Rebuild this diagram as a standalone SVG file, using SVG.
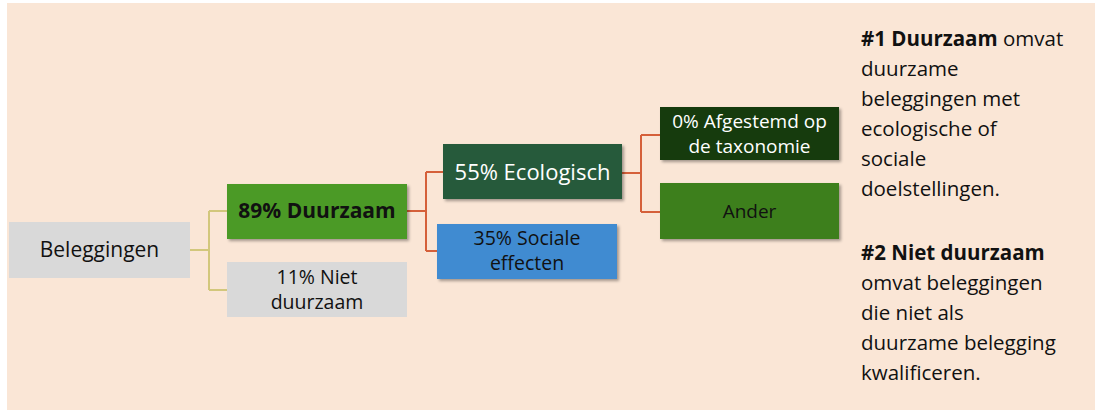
<svg xmlns="http://www.w3.org/2000/svg" width="1095" height="412" viewBox="0 0 1095 412">
<defs>
<filter id="sh" x="-10%" y="-20%" width="125%" height="150%">
<feDropShadow dx="2" dy="2" stdDeviation="1.5" flood-color="#000" flood-opacity="0.35"/>
</filter>
<style>
text{font-family:"Open Sans","Liberation Sans",sans-serif;}
.n{font-size:21px;text-anchor:middle;}
.s{font-size:19px;text-anchor:middle;}
.t{font-size:19.5px;text-anchor:middle;}
.e{font-size:22px;text-anchor:middle;}
.w{fill:#ffffff;}
.k{fill:#111111;}
.note{font-size:20.5px;fill:#111111;}
.c1{fill:none;stroke:#D2C77C;stroke-width:2;}
.c2{fill:none;stroke:#D5603A;stroke-width:2;}
</style>
</defs>
<rect x="0" y="0" width="1095" height="412" fill="#ffffff"/>
<rect x="7" y="3" width="1088" height="407" fill="#FAE6D6"/>
<g id="connectors">
<path class="c1" d="M190 250 H209 M209 211 V290 M209 211 H227 M209 290 H227"/>
<path class="c2" d="M407 211 H426 M426 172 V251 M426 172 H443 M426 251 H437"/>
<path class="c2" d="M622 173 H641 M641 135 V212 M641 135 H660 M641 212 H660"/>
</g>
<g id="beleggingen">
<rect x="9" y="222" width="181" height="56" fill="#D9D9D9"/>
<text class="n k" x="99.5" y="257">Beleggingen</text>
</g>
<g id="duurzaam">
<rect x="227" y="184" width="180" height="55" fill="#4B9A28" filter="url(#sh)"/>
<text class="n k" x="317" y="218" font-weight="bold">89% Duurzaam</text>
</g>
<g id="niet-duurzaam">
<rect x="227" y="262" width="180" height="55" fill="#D9D9D9"/>
<text class="t k" x="317" y="284">11% Niet</text>
<text class="t k" x="317" y="309">duurzaam</text>
</g>
<g id="ecologisch">
<rect x="443" y="144" width="179" height="55" fill="#255A3B" filter="url(#sh)"/>
<text class="e w" x="532.5" y="180">55% Ecologisch</text>
</g>
<g id="sociale">
<rect x="437" y="224" width="180" height="55" fill="#3F8BD1" filter="url(#sh)"/>
<text class="t k" x="527" y="245">35% Sociale</text>
<text class="t k" x="527" y="270">effecten</text>
</g>
<g id="afgestemd">
<rect x="660" y="107" width="179" height="53" fill="#173B0B" filter="url(#sh)"/>
<text class="s w" x="749.5" y="128">0% Afgestemd op</text>
<text class="s w" x="749.5" y="153">de taxonomie</text>
</g>
<g id="ander">
<rect x="660" y="183" width="179" height="56" fill="#3E7F1F" filter="url(#sh)"/>
<text class="s k" x="749.5" y="218">Ander</text>
</g>
<g id="legend">
<text class="note" x="861" y="46"><tspan font-weight="bold">#1 Duurzaam</tspan> omvat</text>
<text class="note" x="861" y="76">duurzame</text>
<text class="note" x="861" y="106">beleggingen met</text>
<text class="note" x="861" y="136">ecologische of</text>
<text class="note" x="861" y="166">sociale</text>
<text class="note" x="861" y="196">doelstellingen.</text>
<text class="note" x="861" y="260" font-weight="bold">#2 Niet duurzaam</text>
<text class="note" x="861" y="290">omvat beleggingen</text>
<text class="note" x="861" y="320">die niet als</text>
<text class="note" x="861" y="350">duurzame belegging</text>
<text class="note" x="861" y="380">kwalificeren.</text>
</g>
</svg>
